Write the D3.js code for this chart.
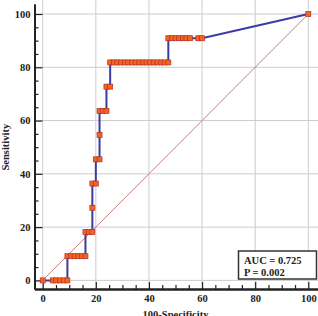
<!DOCTYPE html>
<html>
<head>
<meta charset="utf-8">
<script src="https://cdn.jsdelivr.net/npm/d3@7"></script>
<style>
  body { margin: 0; background: #fff; }
  svg text { font-family: "Liberation Serif", "Times New Roman", serif; font-weight: bold; fill: #222; }
</style>
</head>
<body>
<svg id="chart" width="318" height="316"></svg>
<script>
// ROC points (100-specificity, sensitivity)
var fpr = [0, 3.8, 5.1, 6.5, 7.9, 9.3,
           9.3, 10.6, 12.0, 13.4, 14.7, 16.1,
           16.1, 17.4, 18.7,
           18.7,
           18.7, 20.0,
           20.0, 21.4,
           21.4,
           21.4, 22.7, 24.0,
           24.0, 25.4,
           25.4, 26.8, 28.1, 29.5, 30.9, 32.2, 33.6, 35.0, 36.4, 37.7, 39.1, 40.5, 41.8, 43.2, 44.6, 45.9, 47.3,
           47.3, 48.7, 50.0, 51.4, 52.8, 54.1, 55.5, 58.6, 60.0,
           100];
var tpr = [0, 0, 0, 0, 0, 0,
           9.09, 9.09, 9.09, 9.09, 9.09, 9.09,
           18.18, 18.18, 18.18,
           27.27,
           36.36, 36.36,
           45.45, 45.45,
           54.55,
           63.64, 63.64, 63.64,
           72.73, 72.73,
           81.82, 81.82, 81.82, 81.82, 81.82, 81.82, 81.82, 81.82, 81.82, 81.82, 81.82, 81.82, 81.82, 81.82, 81.82, 81.82, 81.82,
           90.91, 90.91, 90.91, 90.91, 90.91, 90.91, 90.91, 90.91, 90.91,
           100];

var majorTicks = [0, 20, 40, 60, 80, 100];
var minorTicks = [5, 10, 15, 25, 30, 35, 45, 50, 55, 65, 70, 75, 85, 90, 95];
var statLines = ['AUC = 0.725', 'P = 0.002'];
var xTitle = '100-Specificity';
var yTitle = 'Sensitivity';

var svg = d3.select('#chart');

var x = d3.scaleLinear().domain([0, 100]).range([42.7, 308.3]);
var y = d3.scaleLinear().domain([0, 100]).range([280.4, 14]);

var axisX = 34.5, axisY = 289, frameRight = 318, frameTop = 4;

// axis scales span the whole frame
var xa = x.copy().domain([x.invert(axisX), x.invert(frameRight)]).range([axisX, frameRight]);
var ya = y.copy().domain([y.invert(axisY), y.invert(frameTop)]).range([axisY, frameTop]);

// grid
var grid = svg.append('g');
grid.selectAll('.vg').data(majorTicks).enter().append('line')
    .attr('class', 'vg')
    .attr('x1', function(d){ return x(d); })
    .attr('x2', function(d){ return x(d); })
    .attr('y1', 0).attr('y2', axisY)
    .attr('stroke', '#cccccc').attr('stroke-width', 1);
grid.selectAll('.hg').data(majorTicks).enter().append('line')
    .attr('class', 'hg')
    .attr('x1', axisX).attr('x2', frameRight)
    .attr('y1', function(d){ return y(d); })
    .attr('y2', function(d){ return y(d); })
    .attr('stroke', '#cccccc').attr('stroke-width', 1);

// reference diagonal
svg.append('line')
    .attr('x1', x(0)).attr('y1', y(0))
    .attr('x2', x(100)).attr('y2', y(100))
    .attr('stroke', '#c08282').attr('stroke-width', 1);

// axes
var styleAxis = function(g){
    g.select('.domain').attr('stroke', '#222').attr('stroke-width', 1.8);
    g.selectAll('.tick line').attr('stroke', '#222').attr('stroke-width', 1.2);
    g.selectAll('text').attr('font-size', '10.5px').attr('fill', '#222')
        .attr('font-family', '"Liberation Serif", "Times New Roman", serif')
        .attr('font-weight', 'bold');
};

svg.append('g').attr('transform', 'translate(0,' + axisY + ')')
    .call(d3.axisBottom(xa).tickValues(minorTicks).tickSizeInner(-4).tickSizeOuter(0).tickFormat(''))
    .call(styleAxis);
svg.append('g').attr('transform', 'translate(0,' + axisY + ')')
    .call(d3.axisBottom(xa).tickValues(majorTicks).tickSizeInner(-7).tickSizeOuter(0).tickPadding(6).tickFormat(d3.format('d')))
    .call(styleAxis);

svg.append('g').attr('transform', 'translate(' + axisX + ',0)')
    .call(d3.axisLeft(ya).tickValues(minorTicks).tickSizeInner(-4).tickSizeOuter(0).tickFormat(''))
    .call(styleAxis);
svg.append('g').attr('transform', 'translate(' + axisX + ',0)')
    .call(d3.axisLeft(ya).tickValues(majorTicks).tickSizeInner(-8).tickSizeOuter(0).tickPadding(4).tickFormat(d3.format('d')))
    .call(styleAxis);

// ROC curve
var pts = fpr.map(function(d, i){ return [d, tpr[i]]; });

svg.append('path')
    .datum(pts)
    .attr('d', d3.line().x(function(d){ return x(d[0]); }).y(function(d){ return y(d[1]); }))
    .attr('fill', 'none')
    .attr('stroke', '#3b3ba3')
    .attr('stroke-width', 2);

var ms = 5;
svg.selectAll('.mk').data(pts).enter().append('rect')
    .attr('class', 'mk')
    .attr('x', function(d){ return x(d[0]) - ms / 2; })
    .attr('y', function(d){ return y(d[1]) - ms / 2; })
    .attr('width', ms).attr('height', ms)
    .attr('fill', '#f5641e')
    .attr('stroke', '#b0302a')
    .attr('stroke-width', 0.7);

// stats box
svg.append('rect')
    .attr('x', 238.5).attr('y', 251).attr('width', 78).attr('height', 28)
    .attr('fill', '#fff').attr('stroke', '#333').attr('stroke-width', 1.5);
svg.selectAll('.stat').data(statLines).enter().append('text')
    .attr('class', 'stat')
    .attr('x', 244)
    .attr('y', function(d, i){ return 264 + i * 12; })
    .attr('font-size', '10.5px')
    .text(function(d){ return d; });

// titles
svg.append('text')
    .attr('x', (x(0) + x(100)) / 2).attr('y', 317.5)
    .attr('text-anchor', 'middle').attr('font-size', '10.5px')
    .text(xTitle);
svg.append('text')
    .attr('transform', 'translate(8.5,' + ((y(0) + y(100)) / 2) + ') rotate(-90)')
    .attr('text-anchor', 'middle').attr('font-size', '10.5px')
    .text(yTitle);
</script>
</body>
</html>
